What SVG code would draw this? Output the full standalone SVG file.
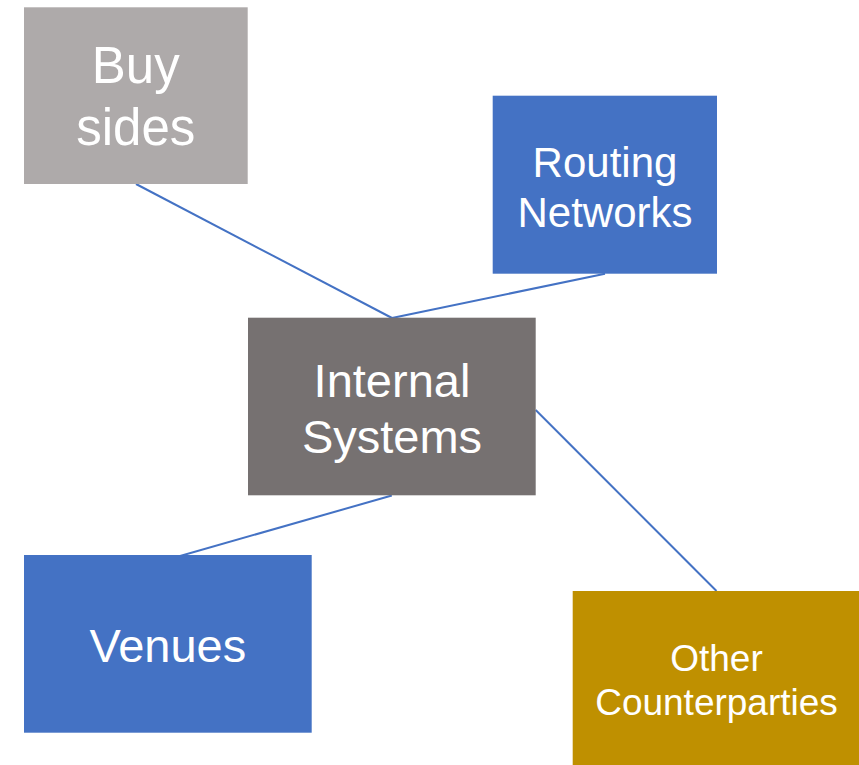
<svg xmlns="http://www.w3.org/2000/svg" width="859" height="765" viewBox="0 0 859 765">
<style>
text { font-family: "Liberation Sans", Arial, sans-serif; fill: #ffffff; text-anchor: middle; }
.conn { stroke: #4472C4; stroke-width: 2; fill: none; }
</style>
<rect width="859" height="765" fill="#ffffff"/>
<g id="connectors">
<line class="conn" x1="136" y1="184" x2="392" y2="318"/>
<line class="conn" x1="605" y1="273.7" x2="392" y2="318"/>
<line class="conn" x1="391.8" y1="495.5" x2="167.8" y2="559.5"/>
<line class="conn" x1="535.7" y1="410" x2="716.5" y2="591"/>
</g>
<g id="buy-sides">
<rect x="24" y="7.3" width="223.7" height="176.7" fill="#AEAAAA"/>
<text x="135.8" y="83.3" font-size="51">Buy</text>
<text x="135.8" y="144.5" font-size="51">sides</text>
</g>
<g id="routing-networks">
<rect x="492.7" y="95.7" width="224.3" height="178" fill="#4472C4"/>
<text x="605" y="176.7" font-size="42">Routing</text>
<text x="605" y="226.7" font-size="42">Networks</text>
</g>
<g id="internal-systems">
<rect x="248" y="317.7" width="287.7" height="177.6" fill="#767171"/>
<text x="392" y="396.7" font-size="47">Internal</text>
<text x="392" y="452.5" font-size="47">Systems</text>
</g>
<g id="venues">
<rect x="24" y="555" width="287.7" height="177.7" fill="#4472C4"/>
<text x="167.8" y="661.7" font-size="47">Venues</text>
</g>
<g id="other-counterparties">
<rect x="572.7" y="591" width="286.3" height="174" fill="#BF9000"/>
<text x="716.5" y="670.7" font-size="37">Other</text>
<text x="716.5" y="715" font-size="37">Counterparties</text>
</g>
</svg>
